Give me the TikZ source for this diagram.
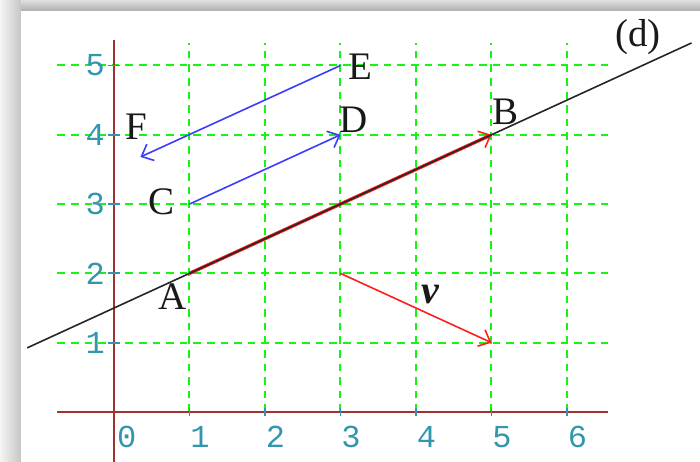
\documentclass[tikz,border=0pt]{standalone}
\usepackage{fontspec}
\setmainfont{Liberation Serif}
\setmonofont{Liberation Mono}
\usetikzlibrary{arrows.meta}
\definecolor{gridgreen}{RGB}{20,245,20}
\definecolor{axisred}{RGB}{160,50,50}
\definecolor{tickteal}{RGB}{50,150,172}
\definecolor{vecblue}{RGB}{60,60,255}
\definecolor{vecred}{RGB}{255,30,30}
\tikzset{
  gridline/.style={gridgreen, line width=1pt, dash pattern=on 3.8pt off 3pt},
  axisline/.style={axisred, line width=1pt},
  tickmark/.style={tickteal, line width=0.9pt},
  ptlabel/.style={font=\fontsize{19.5}{21}\selectfont, inner sep=0pt, text=black!90},
  numlabel/.style={font=\ttfamily\fontsize{16}{18}\selectfont, inner sep=0pt, text=tickteal},
  vecarrow/.style={line width=0.8pt, -{Straight Barb[length=5pt,width=9pt,line width=0.8pt]}},
  dline/.style={black!85, line width=0.8pt},
}
\begin{document}
\begin{tikzpicture}[x=37.75pt,y=34.65pt]
\useasboundingbox (-1.51,-0.7215) rectangle (7.762,5.945);
% frame shadow
\shade[left color=gray!8, right color=gray!45] (-1.51,-0.7215) rectangle (-1.232,5.945);
\shade[top color=gray!25, bottom color=gray!60] (-1.232,5.80) rectangle (7.762,5.945);
% grid
\foreach \j in {1,...,5} \draw[gridline] (-0.75,\j) -- (6.54,\j);
\foreach \i in {1,...,6} \draw[gridline] (\i,0) -- (\i,5.32);
% axes
\draw[axisline] (-0.75,0) -- (6.54,0);
\draw[axisline] (0,-0.7215) -- (0,5.37);
% ticks and numbers
\foreach \i in {1,...,6} {
  \draw[tickmark] (\i,-0.06) -- (\i,0.06);
  \node[numlabel] (nx\i) at (\i+0.14,-0.36) {\i};
}
\node[numlabel] (nx0) at (0.17,-0.36) {0};
\foreach \j in {1,...,5} {
  \draw[tickmark] (-0.08,\j) -- (0.08,\j);
  \node[numlabel] (ny\j) at (-0.25,\j) {\j};
}
% points
\coordinate (A) at (1,2);
\coordinate (B) at (5,4);
\coordinate (C) at (1,3);
\coordinate (D) at (3,4);
\coordinate (E) at (3,5);
\coordinate (F) at (0.35,3.68);
\coordinate (V1) at (3,2);
\coordinate (V2) at (5,1);
\coordinate (dL) at (-1.15,0.925);
\coordinate (dR) at (7.65,5.325);
% vectors
\draw[vecarrow, vecred, line width=1.7pt] (A) -- (B);
\draw[dline] (dL) -- (dR);
\draw[vecarrow, vecred] (V1) -- (V2);
\draw[vecarrow, vecblue] (C) -- (D);
\draw[vecarrow, vecblue] (E) -- (F);
% labels
\node[ptlabel] (lA) at (0.77,1.67) {A};
\node[ptlabel] (lB) at (5.18,4.33) {B};
\node[ptlabel] (lC) at (0.63,3.03) {C};
\node[ptlabel] (lD) at (3.17,4.21) {D};
\node[ptlabel] (lE) at (3.26,4.98) {E};
\node[ptlabel] (lF) at (0.29,4.11) {F};
\node[ptlabel] (ld) at (6.94,5.41) {(d)};
\node[ptlabel, font=\fontsize{20}{21}\selectfont\bfseries\itshape] (lv) at (4.19,1.69) {v};
\end{tikzpicture}
\end{document}
